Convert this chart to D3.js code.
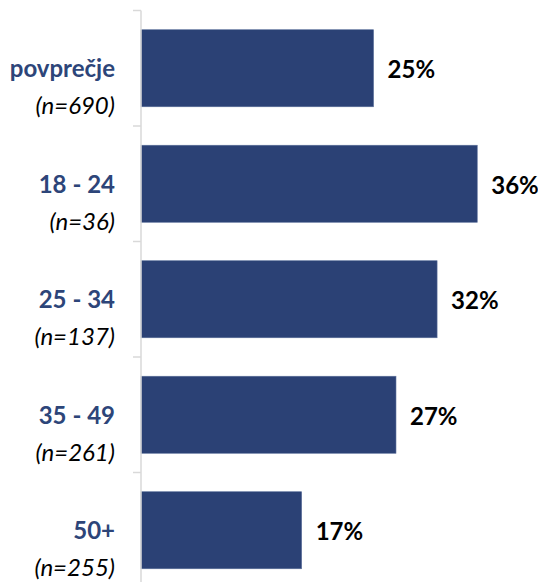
<!DOCTYPE html>
<html>
<head>
<meta charset="utf-8">
<script src="https://cdn.jsdelivr.net/npm/d3@7"></script>
<style>
  html, body { margin: 0; padding: 0; background: #fff; }
  svg { display: block; }
</style>
</head>
<body>
<svg id="chart" width="538" height="582"></svg>
<script>
const categories = ["povprečje", "18 - 24", "25 - 34", "35 - 49", "50+"];
const sampleSizes = ["(n=690)", "(n=36)", "(n=137)", "(n=261)", "(n=255)"];
const values = [24.9, 36.0, 31.7, 27.3, 17.2];

const barColor = "#2b4175";
const nameColor = "#2d4579";
const fontFamily = "Lato, 'Open Sans', sans-serif";

const svg = d3.select("#chart");

const axisX = 141;
const y = d3.scaleBand()
  .domain(categories)
  .range([10.5, 588])
  .paddingInner(0.333)
  .paddingOuter(0.1665);

const x = d3.scaleLinear().domain([0, 40]).range([axisX, axisX + 373.6]);

// bars
svg.append("g").selectAll("rect")
  .data(categories)
  .join("rect")
  .attr("x", x(0))
  .attr("y", d => y(d))
  .attr("width", (d, i) => x(values[i]) - x(0))
  .attr("height", y.bandwidth())
  .attr("fill", barColor)
  .attr("stroke", "#5a6e9a")
  .attr("stroke-width", 0.6);

// axis line and ticks at band boundaries
const step = y.step();
const start = y(categories[0]) - y.step() * y.paddingInner() / 2;
const axisG = svg.append("g");
axisG.append("line")
  .attr("x1", axisX).attr("x2", axisX)
  .attr("y1", start).attr("y2", start + step * categories.length)
  .attr("stroke", "#d9d9d9").attr("stroke-width", 1.5);
axisG.selectAll("line.tick")
  .data(d3.range(categories.length + 1))
  .join("line")
  .attr("class", "tick")
  .attr("x1", axisX - 8).attr("x2", axisX)
  .attr("y1", k => start + k * step).attr("y2", k => start + k * step)
  .attr("stroke", "#d9d9d9").attr("stroke-width", 1.5);

// category labels
const labelG = svg.append("g");
labelG.selectAll("text.name")
  .data(categories)
  .join("text")
  .attr("class", "name")
  .attr("x", 115)
  .attr("y", d => y(d) + y.bandwidth() / 2 + 9)
  .attr("text-anchor", "end")
  .attr("font-family", fontFamily)
  .attr("font-weight", "bold")
  .attr("font-size", 24)
  .attr("fill", nameColor)
  .text(d => d);

labelG.selectAll("text.n")
  .data(categories)
  .join("text")
  .attr("class", "n")
  .attr("x", 115)
  .attr("y", d => y(d) + y.bandwidth() / 2 + 46)
  .attr("text-anchor", "end")
  .attr("font-family", fontFamily)
  .attr("font-style", "italic")
  .attr("font-size", 24)
  .attr("fill", "#000")
  .text((d, i) => sampleSizes[i]);

// value labels
svg.append("g").selectAll("text")
  .data(categories)
  .join("text")
  .attr("x", (d, i) => x(values[i]) + 14)
  .attr("y", d => y(d) + y.bandwidth() / 2 + 10)
  .attr("font-family", fontFamily)
  .attr("font-weight", "bold")
  .attr("font-size", 24)
  .attr("fill", "#000")
  .text((d, i) => Math.round(values[i]) + "%");
</script>
</body>
</html>
